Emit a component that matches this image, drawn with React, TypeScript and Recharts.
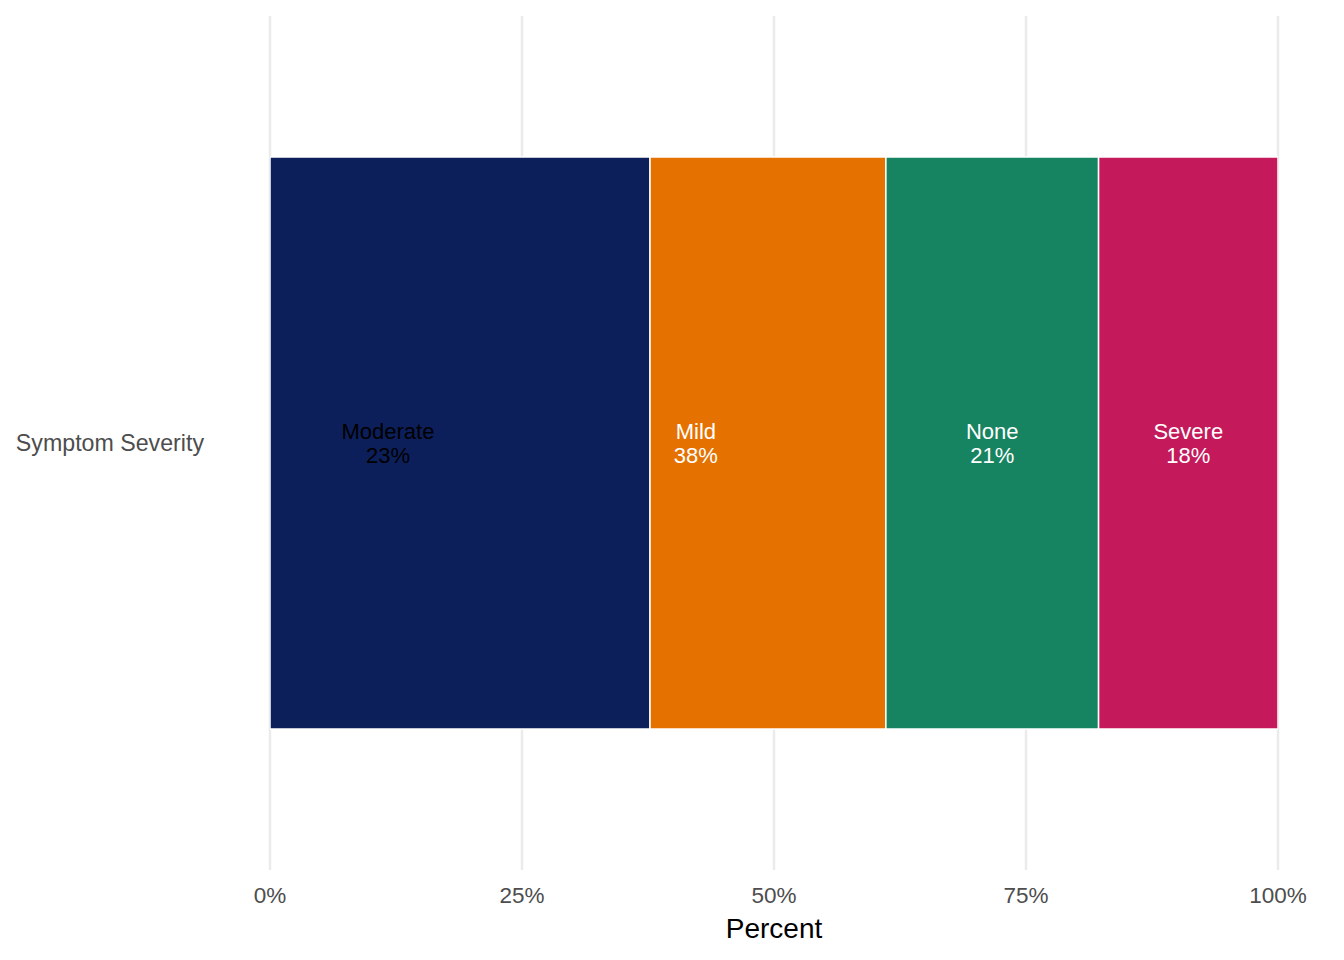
import React from "react";
import { BarChart, Bar, XAxis, YAxis, CartesianGrid, ReferenceDot } from "recharts";

// ---- data ----
const rowLabel = "Symptom Severity";
// order in which the filled segments are stacked (left to right)
const fillLevels = ["Mild", "Moderate", "None", "Severe"];
const fillColors = ["#0C1F5B", "#E57200", "#178461", "#C4195B"];
// order in which the text labels are stacked
const labelLevels = ["Moderate", "Mild", "None", "Severe"];
const labelValues = [23.4, 37.7, 21.1, 17.8];
const labelTextColors = ["#000000", "#FFFFFF", "#FFFFFF", "#FFFFFF"];
const xTicks = [0, 25, 50, 75, 100];

const valueOf: Record<string, number> = {};
labelLevels.forEach((l, i) => {
  valueOf[l] = labelValues[i];
});

const chartData = [
  fillLevels.reduce(
    (row: Record<string, any>, l) => {
      row[l] = valueOf[l];
      return row;
    },
    { name: rowLabel }
  ),
];

// label centres from stacked label order
const labelCenters: number[] = [];
{
  let acc = 0;
  labelValues.forEach((v) => {
    labelCenters.push(acc + v / 2);
    acc += v;
  });
}

const FONT = '"Liberation Sans", Arial, Helvetica, sans-serif';

const makeLabel = (i: number) => (p: any) => {
  const vb = p.viewBox || {};
  const cx = vb.x + (vb.width || 0) / 2;
  const cy = vb.y + (vb.height || 0) / 2;
  return (
    <text
      textAnchor="middle"
      fontFamily={FONT}
      fontSize={22}
      fill={labelTextColors[i]}
    >
      <tspan x={cx} y={cy - 4}>
        {labelLevels[i]}
      </tspan>
      <tspan x={cx} y={cy + 20}>
        {Math.round(labelValues[i]) + "%"}
      </tspan>
    </text>
  );
};

export default function App() {
  return (
    <div style={{ position: "absolute", left: 0, top: 0, width: 1344, height: 960, background: "#fff" }}>
      <BarChart
        width={1344}
        height={960}
        data={chartData}
        layout="vertical"
        margin={{ top: 16, right: 66, bottom: 0, left: 0 }}
        barCategoryGap="16.5%"
        style={{ fontFamily: FONT }}
      >
        <CartesianGrid horizontal={false} vertical={true} stroke="#EBEBEB" strokeWidth={2.5} />
        <XAxis
          type="number"
          domain={[0, 100]}
          ticks={xTicks}
          allowDataOverflow
          tickFormatter={(v: number) => v + "%"}
          axisLine={false}
          tickLine={false}
          tickSize={0}
          tickMargin={17}
          height={90}
          tick={{ fill: "#4D4D4D", fontSize: 22.5, fontFamily: FONT }}
          interval={0}
          label={{
            value: "Percent",
            position: "insideBottom",
            offset: 22,
            fill: "#000000",
            fontSize: 28,
            fontFamily: FONT,
          }}
        />
        <YAxis
          type="category"
          dataKey="name"
          width={270}
          axisLine={false}
          tickLine={false}
          tickSize={0}
          tickMargin={66}
          tick={{ fill: "#4D4D4D", fontSize: 23.2, fontFamily: FONT }}
        />
        {fillLevels.map((l, i) => (
          <Bar
            key={l}
            dataKey={l}
            stackId="s"
            fill={fillColors[i]}
            stroke="#FFFFFF"
            strokeWidth={1.5}
            isAnimationActive={false}
          />
        ))}
        {labelLevels.map((l, i) => (
          <ReferenceDot
            key={"lab-" + l}
            x={labelCenters[i]}
            y={rowLabel}
            r={1}
            fill="none"
            stroke="none"
            ifOverflow="visible"
            label={makeLabel(i)}
          />
        ))}
      </BarChart>
    </div>
  );
}
